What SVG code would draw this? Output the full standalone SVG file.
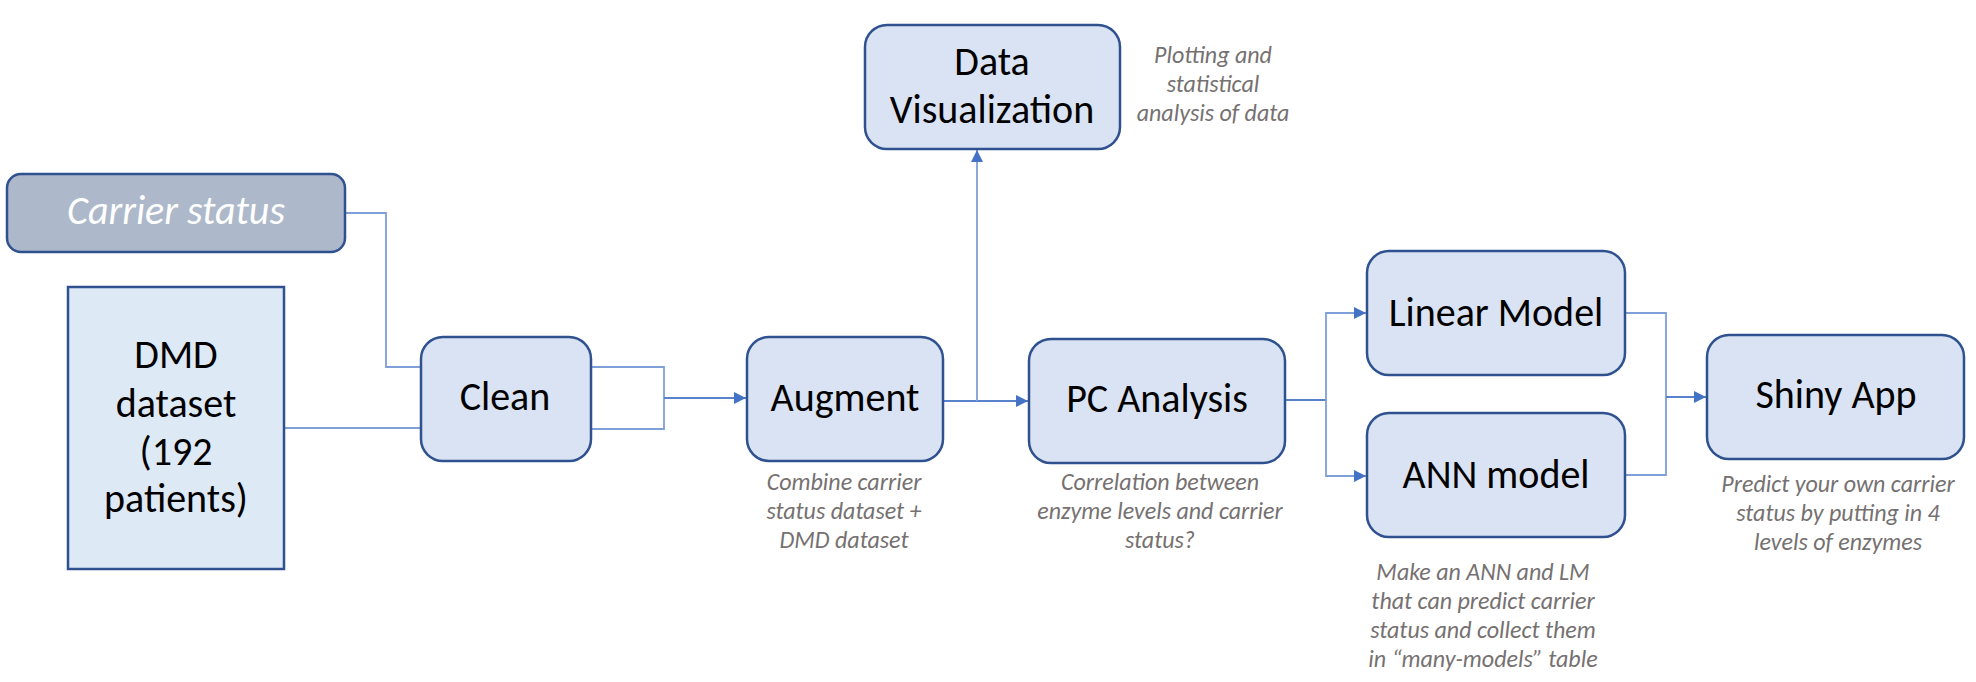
<svg xmlns="http://www.w3.org/2000/svg" width="1976" height="682" viewBox="0 0 1976 682">
<style>
.node{fill:#dae3f3;stroke:#2f528f;stroke-width:2.5}
.t{font-family:Carlito,"Liberation Sans",Arial,sans-serif;font-size:40px;fill:#000;text-anchor:middle}
.cap{font-family:Carlito,"Liberation Sans",Arial,sans-serif;font-size:24px;font-style:italic;fill:#767171;text-anchor:middle}
.ln{fill:none;stroke:#7f9fd9;stroke-width:1.8}
.la{fill:none;stroke:#5a82cc;stroke-width:2}
</style>
<defs>
<marker id="ah" markerWidth="12" markerHeight="12" refX="12" refY="6" orient="auto" markerUnits="userSpaceOnUse">
<path d="M0,0 L12,6 L0,12 Z" fill="#4472c4"/>
</marker>
</defs>
<rect width="1976" height="682" fill="#fff"/>
<g id="connectors">
<polyline class="ln" points="345,213 386,213 386,367 421,367"/>
<line class="ln" x1="285" y1="428" x2="421" y2="428"/>
<polyline class="ln" points="591,367 664,367 664,429 591,429"/>
<line class="la" x1="664" y1="398" x2="746" y2="398" marker-end="url(#ah)"/>
<line class="la" x1="944" y1="401" x2="1028" y2="401" marker-end="url(#ah)"/>
<line class="ln" x1="977" y1="401" x2="977" y2="150" marker-end="url(#ah)"/>
<line class="la" x1="1286" y1="400" x2="1326" y2="400"/>
<polyline class="ln" points="1366,313 1326,313 1326,476 1366,476"/>
<line class="ln" x1="1326" y1="313" x2="1366" y2="313" marker-end="url(#ah)"/>
<line class="ln" x1="1326" y1="476" x2="1366" y2="476" marker-end="url(#ah)"/>
<polyline class="ln" points="1625,313 1666,313 1666,475 1625,475"/>
<line class="la" x1="1666" y1="397" x2="1706" y2="397" marker-end="url(#ah)"/>
</g>
<g id="carrier">
<rect x="7" y="174" width="338" height="78" rx="14" fill="#adb9ca" stroke="#2f528f" stroke-width="2.5"/>
<text x="176" y="224" class="t" style="font-style:italic;fill:#fff">Carrier status</text>
</g>
<g id="dmd">
<rect x="68" y="287" width="216" height="282" fill="#dee9f6" stroke="#2f528f" stroke-width="2.5"/>
<text class="t" x="176" y="368">DMD</text>
<text class="t" x="176" y="417">dataset</text>
<text class="t" x="176" y="465">(192</text>
<text class="t" x="176" y="512">patients)</text>
</g>
<g id="clean">
<rect class="node" x="421" y="337" width="170" height="124" rx="22"/>
<text class="t" x="505" y="410">Clean</text>
</g>
<g id="augment">
<rect class="node" x="747" y="337" width="196" height="124" rx="22"/>
<text class="t" x="845" y="411">Augment</text>
<text class="cap" x="844" y="490">Combine carrier</text>
<text class="cap" x="844" y="519">status dataset +</text>
<text class="cap" x="844" y="548">DMD dataset</text>
</g>
<g id="dataviz">
<rect class="node" x="865" y="25" width="255" height="124" rx="22"/>
<text class="t" x="992" y="75">Data</text>
<text class="t" x="992" y="123">Visualization</text>
<text class="cap" x="1213" y="63">Plotting and</text>
<text class="cap" x="1213" y="92">statistical</text>
<text class="cap" x="1213" y="121">analysis of data</text>
</g>
<g id="pca">
<rect class="node" x="1029" y="339" width="256" height="124" rx="22"/>
<text class="t" x="1157" y="412">PC Analysis</text>
<text class="cap" x="1160" y="490">Correlation between</text>
<text class="cap" x="1160" y="519">enzyme levels and carrier</text>
<text class="cap" x="1160" y="548">status?</text>
</g>
<g id="linear">
<rect class="node" x="1367" y="251" width="258" height="124" rx="22"/>
<text class="t" x="1496" y="326">Linear Model</text>
</g>
<g id="ann">
<rect class="node" x="1367" y="413" width="258" height="124" rx="22"/>
<text class="t" x="1496" y="488">ANN model</text>
<text class="cap" x="1483" y="580">Make an ANN and LM</text>
<text class="cap" x="1483" y="609">that can predict carrier</text>
<text class="cap" x="1483" y="638">status and collect them</text>
<text class="cap" x="1483" y="667">in “many-models” table</text>
</g>
<g id="shiny">
<rect class="node" x="1707" y="335" width="257" height="124" rx="22"/>
<text class="t" x="1836" y="408">Shiny App</text>
<text class="cap" x="1838" y="492">Predict your own carrier</text>
<text class="cap" x="1838" y="521">status by putting in 4</text>
<text class="cap" x="1838" y="550">levels of enzymes</text>
</g>
</svg>
